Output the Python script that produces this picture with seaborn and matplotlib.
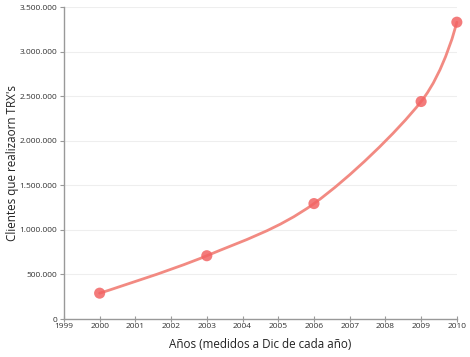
import matplotlib
matplotlib.use("Agg")
import matplotlib.pyplot as plt
import seaborn as sns
import numpy as np
import pandas as pd
from matplotlib.path import Path
from matplotlib.patches import PathPatch
from matplotlib.ticker import FuncFormatter

years = [2000, 2003, 2006, 2009, 2010]
clients = [290000, 710000, 1295000, 2440000, 3330000]
x_ticks = list(range(1999, 2011))
y_ticks = [0, 500000, 1000000, 1500000, 2000000, 2500000, 3000000, 3500000]
x_label = "Años (medidos a Dic de cada año)"
y_label = "Clientes que realizaorn TRX's"

sns.set_theme(style="white")
plt.rcParams['font.family'] = ['Open Sans', 'DejaVu Sans']

df = pd.DataFrame({"year": years, "clients": clients})

fig = plt.figure(figsize=(4.7, 3.57), dpi=100)
ax = fig.add_axes([0.136, 0.1064, 0.836, 0.8739])

line_color = "#F28A82"
marker_color = "#F26464"

# smooth spline through the data (Catmull-Rom as cubic Bezier)
pts = np.column_stack([df["year"].to_numpy(float), df["clients"].to_numpy(float)])
verts = [tuple(pts[0])]
codes = [Path.MOVETO]
n = len(pts)
for i in range(n - 1):
    p0 = pts[i - 1] if i > 0 else pts[i]
    p1 = pts[i]
    p2 = pts[i + 1]
    p3 = pts[i + 2] if i + 2 < n else pts[i + 1]
    c1 = p1 + (p2 - p0) / 6.0 if i > 0 else p1
    c2 = p2 - (p3 - p1) / 6.0 if i + 2 < n else p2
    verts += [tuple(c1), tuple(c2), tuple(p2)]
    codes += [Path.CURVE4] * 3
ax.add_patch(PathPatch(Path(verts, codes), facecolor="none", edgecolor=line_color,
                       lw=2.0, zorder=3, capstyle="round", clip_on=False))

sc = sns.scatterplot(data=df, x="year", y="clients", ax=ax, s=64, color=marker_color,
                     alpha=0.85, edgecolor="none", zorder=4, legend=False)
for coll in ax.collections:
    coll.set_clip_on(False)

ax.set_xlim(1999, 2010)
ax.set_ylim(0, 3500000)
ax.set_xticks(x_ticks)
ax.set_yticks(y_ticks)
ax.yaxis.set_major_formatter(FuncFormatter(lambda v, p: f"{int(v):,}".replace(",", ".")))
ax.xaxis.set_major_formatter(FuncFormatter(lambda v, p: f"{int(v)}"))

ax.grid(axis="y", color="#EEEEEE", lw=0.8)
ax.grid(axis="x", visible=False)
for s in ["top", "right"]:
    ax.spines[s].set_visible(False)
for s in ["left", "bottom"]:
    ax.spines[s].set_color("#999999")
    ax.spines[s].set_linewidth(1.0)

ax.tick_params(axis="y", direction="out", length=3, width=0.8, color="#999999",
               labelsize=6, labelcolor="#333333", pad=2, left=True)
ax.tick_params(axis="x", direction="inout", length=4, width=0.8, color="#999999",
               labelsize=6, labelcolor="#333333", pad=1, bottom=True)

ax.set_xlabel(x_label, fontsize=8.4, color="#222222")
ax.set_ylabel(y_label, fontsize=8.4, color="#222222")
ax.xaxis.set_label_coords(0.5, -0.083)
ax.yaxis.set_label_coords(-0.132, 0.5)
ax.xaxis.label.set_va("center")
ax.yaxis.label.set_va("center")

fig.savefig("out.png", dpi=100)
